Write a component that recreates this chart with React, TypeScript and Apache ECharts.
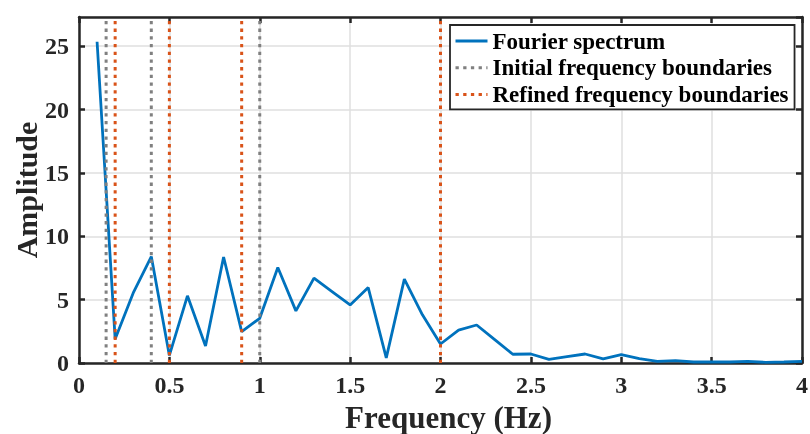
import React, { useEffect, useRef } from "react";
import * as echarts from "echarts";

const freqs = [
  0.1, 0.2, 0.3, 0.4, 0.5, 0.6, 0.7, 0.8, 0.9, 1.0,
  1.1, 1.2, 1.3, 1.4, 1.5, 1.6, 1.7, 1.8, 1.9, 2.0,
  2.1, 2.2, 2.3, 2.4, 2.5, 2.6, 2.7, 2.8, 2.9, 3.0,
  3.1, 3.2, 3.3, 3.4, 3.5, 3.6, 3.7, 3.8, 3.9, 4.0,
];
const amps = [
  25.35, 1.9, 5.53, 8.4, 0.6, 5.3, 1.34, 8.36, 2.47, 3.53,
  7.53, 4.11, 6.7, 5.64, 4.58, 5.95, 0.4, 6.62, 3.8, 1.5,
  2.6, 3.0, 1.85, 0.69, 0.71, 0.29, 0.5, 0.71, 0.32, 0.66,
  0.34, 0.13, 0.18, 0.08, 0.08, 0.08, 0.13, 0.05, 0.08, 0.13,
];
const initialBounds = [0.15, 0.4, 1.0];
const refinedBounds = [0.2, 0.5, 0.9, 2.0];
const xTicks = { min: 0, max: 4, interval: 0.5 };
const yTicks = { min: 0, max: 27.3, interval: 5 };
const names = ["Fourier spectrum", "Initial frequency boundaries", "Refined frequency boundaries"];

const FONT = "Liberation Serif";
const INK = "#262626";

export default function App() {
  const ref = useRef<HTMLDivElement>(null);
  useEffect(() => {
    if (!ref.current) return;
    const chart = echarts.init(ref.current, null, { renderer: "svg" });
    const axisLine = { show: true, onZero: false, lineStyle: { color: INK, width: 2.5 } };
    const axisTick = { show: true, inside: true, length: 6, lineStyle: { color: INK, width: 2.5 } };
    const label = { fontSize: 24, fontWeight: "bold", fontFamily: FONT, color: INK };
    const split = { show: true, lineStyle: { color: "#dfdfdf", width: 1.5 } };
    const boundSeries = (xs: number[], name: string, color: string) =>
      xs.map((x) => ({
        type: "line",
        name,
        data: [[x, yTicks.min], [x, yTicks.max]],
        symbol: "none",
        lineStyle: { color, width: 3, type: [3.3, 4.4], cap: "butt" },
        itemStyle: { color },
        z: 3,
      }));
    const yFmt = (v: number) => (Math.abs(v / 5 - Math.round(v / 5)) < 1e-6 ? String(v) : "");
    chart.setOption({
      animation: false,
      grid: { left: 79, right: 8, top: 17, bottom: 71, containLabel: false, outerBoundsMode: "none" },
      legend: {
        data: names,
        orient: "vertical",
        left: 450,
        top: 25,
        padding: [4, 6, 3, 4],
        itemGap: 2.7,
        itemWidth: 32,
        itemHeight: 14,
        backgroundColor: "#ffffff",
        borderColor: INK,
        borderWidth: 1.8,
        borderRadius: 0,
        lineStyle: { width: 3 },
        itemStyle: { opacity: 0, borderWidth: 0 },
        textStyle: { fontSize: 23, fontWeight: "bold", fontFamily: FONT, color: "#000", lineHeight: 24 },
      },
      xAxis: [
        {
          type: "value",
          position: "bottom",
          min: xTicks.min,
          max: xTicks.max,
          interval: xTicks.interval,
          axisLine,
          axisTick,
          axisLabel: { ...label, margin: 10 },
          splitLine: split,
          name: "Frequency (Hz)",
          nameLocation: "middle",
          nameGap: 36,
          nameTextStyle: { fontSize: 31, fontWeight: "bold", fontFamily: FONT, color: INK, padding: [0, 0, 0, 16] },
        },
        {
          type: "value",
          position: "top",
          min: xTicks.min,
          max: xTicks.max,
          interval: xTicks.interval,
          axisLine,
          axisTick,
          axisLabel: { show: false },
          splitLine: { show: false },
        },
      ],
      yAxis: [
        {
          type: "value",
          position: "left",
          min: yTicks.min,
          max: yTicks.max,
          interval: yTicks.interval,
          axisLine,
          axisTick,
          axisLabel: { ...label, margin: 10, formatter: yFmt, showMaxLabel: false },
          splitLine: split,
          name: "Amplitude",
          nameLocation: "middle",
          nameGap: 38,
          nameMoveOverlap: false,
          nameTextStyle: { fontSize: 30, fontWeight: "bold", fontFamily: FONT, color: INK },
        },
        {
          type: "value",
          position: "right",
          min: yTicks.min,
          max: yTicks.max,
          interval: yTicks.interval,
          axisLine,
          axisTick,
          axisLabel: { show: false },
          splitLine: { show: false },
        },
      ],
      series: [
        {
          type: "line",
          name: names[0],
          data: freqs.map((f, i) => [f, amps[i]]),
          symbol: "none",
          lineStyle: { color: "#0072BD", width: 2.8 },
          itemStyle: { color: "#0072BD" },
          z: 2,
        },
        ...boundSeries(initialBounds, names[1], "#808080"),
        ...boundSeries(refinedBounds, names[2], "#D95319"),
      ],
    });
    return () => chart.dispose();
  }, []);
  return <div ref={ref} style={{ position: "fixed", left: 0, top: 0, width: 810, height: 434 }} />;
}
